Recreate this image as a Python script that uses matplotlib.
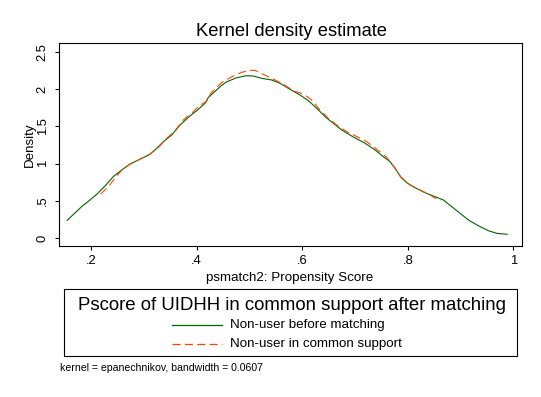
import matplotlib
matplotlib.use("Agg")
import matplotlib.pyplot as plt
from matplotlib.lines import Line2D
from matplotlib.patches import Rectangle

plt.rcParams['font.family'] = ['Liberation Sans', 'DejaVu Sans']
plt.rcParams['lines.scale_dashes'] = False

# ---- data ----
before_x = [0.155, 0.170, 0.1835, 0.195, 0.2108, 0.2265, 0.242, 0.258, 0.274, 0.2896,
            0.3117, 0.321, 0.337, 0.3528, 0.3686, 0.3843, 0.400, 0.4159, 0.4222, 0.4348,
            0.447, 0.457, 0.476, 0.4949, 0.5074, 0.5233, 0.5422, 0.558, 0.5769, 0.5958,
            0.6116, 0.6275, 0.6432, 0.6589, 0.6748, 0.6905, 0.700, 0.719, 0.7379, 0.7536,
            0.7663, 0.7758, 0.7852, 0.798, 0.8136, 0.8326, 0.8515, 0.8672, 0.8831, 0.8989,
            0.9146, 0.9336, 0.9525, 0.9684, 0.988]
before_y = [0.238, 0.340, 0.430, 0.493, 0.587, 0.699, 0.824, 0.914, 0.995, 1.048,
            1.125, 1.183, 1.294, 1.384, 1.519, 1.622, 1.711, 1.810, 1.89, 1.97,
            2.05, 2.10, 2.155, 2.182, 2.177, 2.146, 2.124, 2.079, 1.998, 1.922,
            1.846, 1.743, 1.631, 1.541, 1.452, 1.384, 1.345, 1.273, 1.183, 1.093,
            1.026, 0.937, 0.833, 0.743, 0.676, 0.609, 0.555, 0.511, 0.421, 0.332,
            0.242, 0.165, 0.098, 0.063, 0.050]

support_x = [0.2184, 0.2328, 0.2487, 0.2612, 0.2771, 0.296, 0.3117, 0.3275, 0.3434, 0.359,
             0.3748, 0.3907, 0.4033, 0.4191, 0.4273, 0.4475, 0.4665, 0.4854, 0.5011, 0.5106,
             0.5263, 0.5422, 0.5612, 0.5831, 0.6021, 0.618, 0.6337, 0.6494, 0.6653, 0.6843,
             0.700, 0.7222, 0.7411, 0.760, 0.7758, 0.7884, 0.8042, 0.8231, 0.842, 0.8578]
support_y = [0.591, 0.690, 0.833, 0.936, 1.004, 1.071, 1.129, 1.219, 1.340, 1.442,
             1.586, 1.676, 1.765, 1.841, 1.95, 2.09, 2.168, 2.227, 2.254, 2.254,
             2.20, 2.146, 2.079, 1.98, 1.935, 1.855, 1.72, 1.609, 1.519, 1.429,
             1.375, 1.294, 1.192, 1.085, 0.937, 0.802, 0.712, 0.645, 0.578, 0.511]

x_ticks = [0.2, 0.4, 0.6, 0.8, 1.0]
x_ticklabels = ['.2', '.4', '.6', '.8', '1']
y_ticks = [0, 0.5, 1, 1.5, 2, 2.5]
y_ticklabels = ['0', '.5', '1', '1.5', '2', '2.5']

labels = ['Non-user before matching', 'Non-user in common support']
title = 'Kernel density estimate'
legend_title = 'Pscore of UIDHH in common support after matching'
note = 'kernel = epanechnikov, bandwidth = 0.0607'

GREEN = '#006400'
ORANGE = '#ff4500'

W, H = 541, 397
fig = plt.figure(figsize=(W / 100, H / 100), dpi=100)
fig.patch.set_facecolor('white')

def fx(px):
    return px / W

def fy(py):
    return 1 - py / H

L, R, T, B = 58.5, 521.5, 43.3, 246.0
ax = fig.add_axes([fx(L), fy(B), (R - L) / W, (B - T) / H])

ax.plot(before_x, before_y, color=GREEN, lw=0.8)
ax.plot(support_x, support_y, color=ORANGE, lw=0.8, dashes=(5.8, 3.1))

ax.set_xlim(0.1384, 1.0152)
ax.set_ylim(-0.1075, 2.617)
ax.set_xticks(x_ticks)
ax.set_xticklabels(x_ticklabels)
ax.set_yticks(y_ticks)
ax.set_yticklabels(y_ticklabels, rotation=90, va='center')

for s in ax.spines.values():
    s.set_linewidth(0.8)
    s.set_color('black')
ax.tick_params(direction='out', length=3, width=0.8, labelsize=9.4, colors='black')
ax.tick_params(axis='x', pad=3.5)
ax.tick_params(axis='y', pad=4)

ax.set_xlabel('psmatch2: Propensity Score', fontsize=9.6, va='baseline')
ax.xaxis.set_label_coords(0.5, -(280.5 - B) / (B - T))
ax.set_ylabel('Density', fontsize=9.6, va='baseline')
ax.yaxis.set_label_coords(-(L - 32.7) / (R - L), 0.5)

fig.text(fx(291.0), fy(36.2), title, fontsize=13.2, ha='center', va='baseline')

# legend box
lx0, lx1, ly0, ly1 = 63.7, 517.0, 289.3, 356.0
fig.add_artist(Rectangle((fx(lx0), fy(ly1)), (lx1 - lx0) / W, (ly1 - ly0) / H,
                         transform=fig.transFigure, fill=False, ec='black', lw=0.8))
fig.text(fx(291.5), fy(309.5), legend_title, fontsize=13.4, ha='center', va='baseline')
for yy, col, lab, ds in [(325.3, GREEN, labels[0], None), (344.3, ORANGE, labels[1], (5.8, 3.1))]:
    ln = Line2D([fx(171.5), fx(221.5)], [fy(yy), fy(yy)], transform=fig.transFigure,
                color=col, lw=0.9)
    if ds:
        ln.set_dashes(ds)
    fig.add_artist(ln)
    fig.text(fx(230.4), fy(yy), lab, fontsize=9.6, ha='left', va='center')

fig.text(fx(59.9), fy(367.7), note, fontsize=7.6, ha='left', va='center')

fig.savefig('out.png', dpi=100, facecolor='white')
